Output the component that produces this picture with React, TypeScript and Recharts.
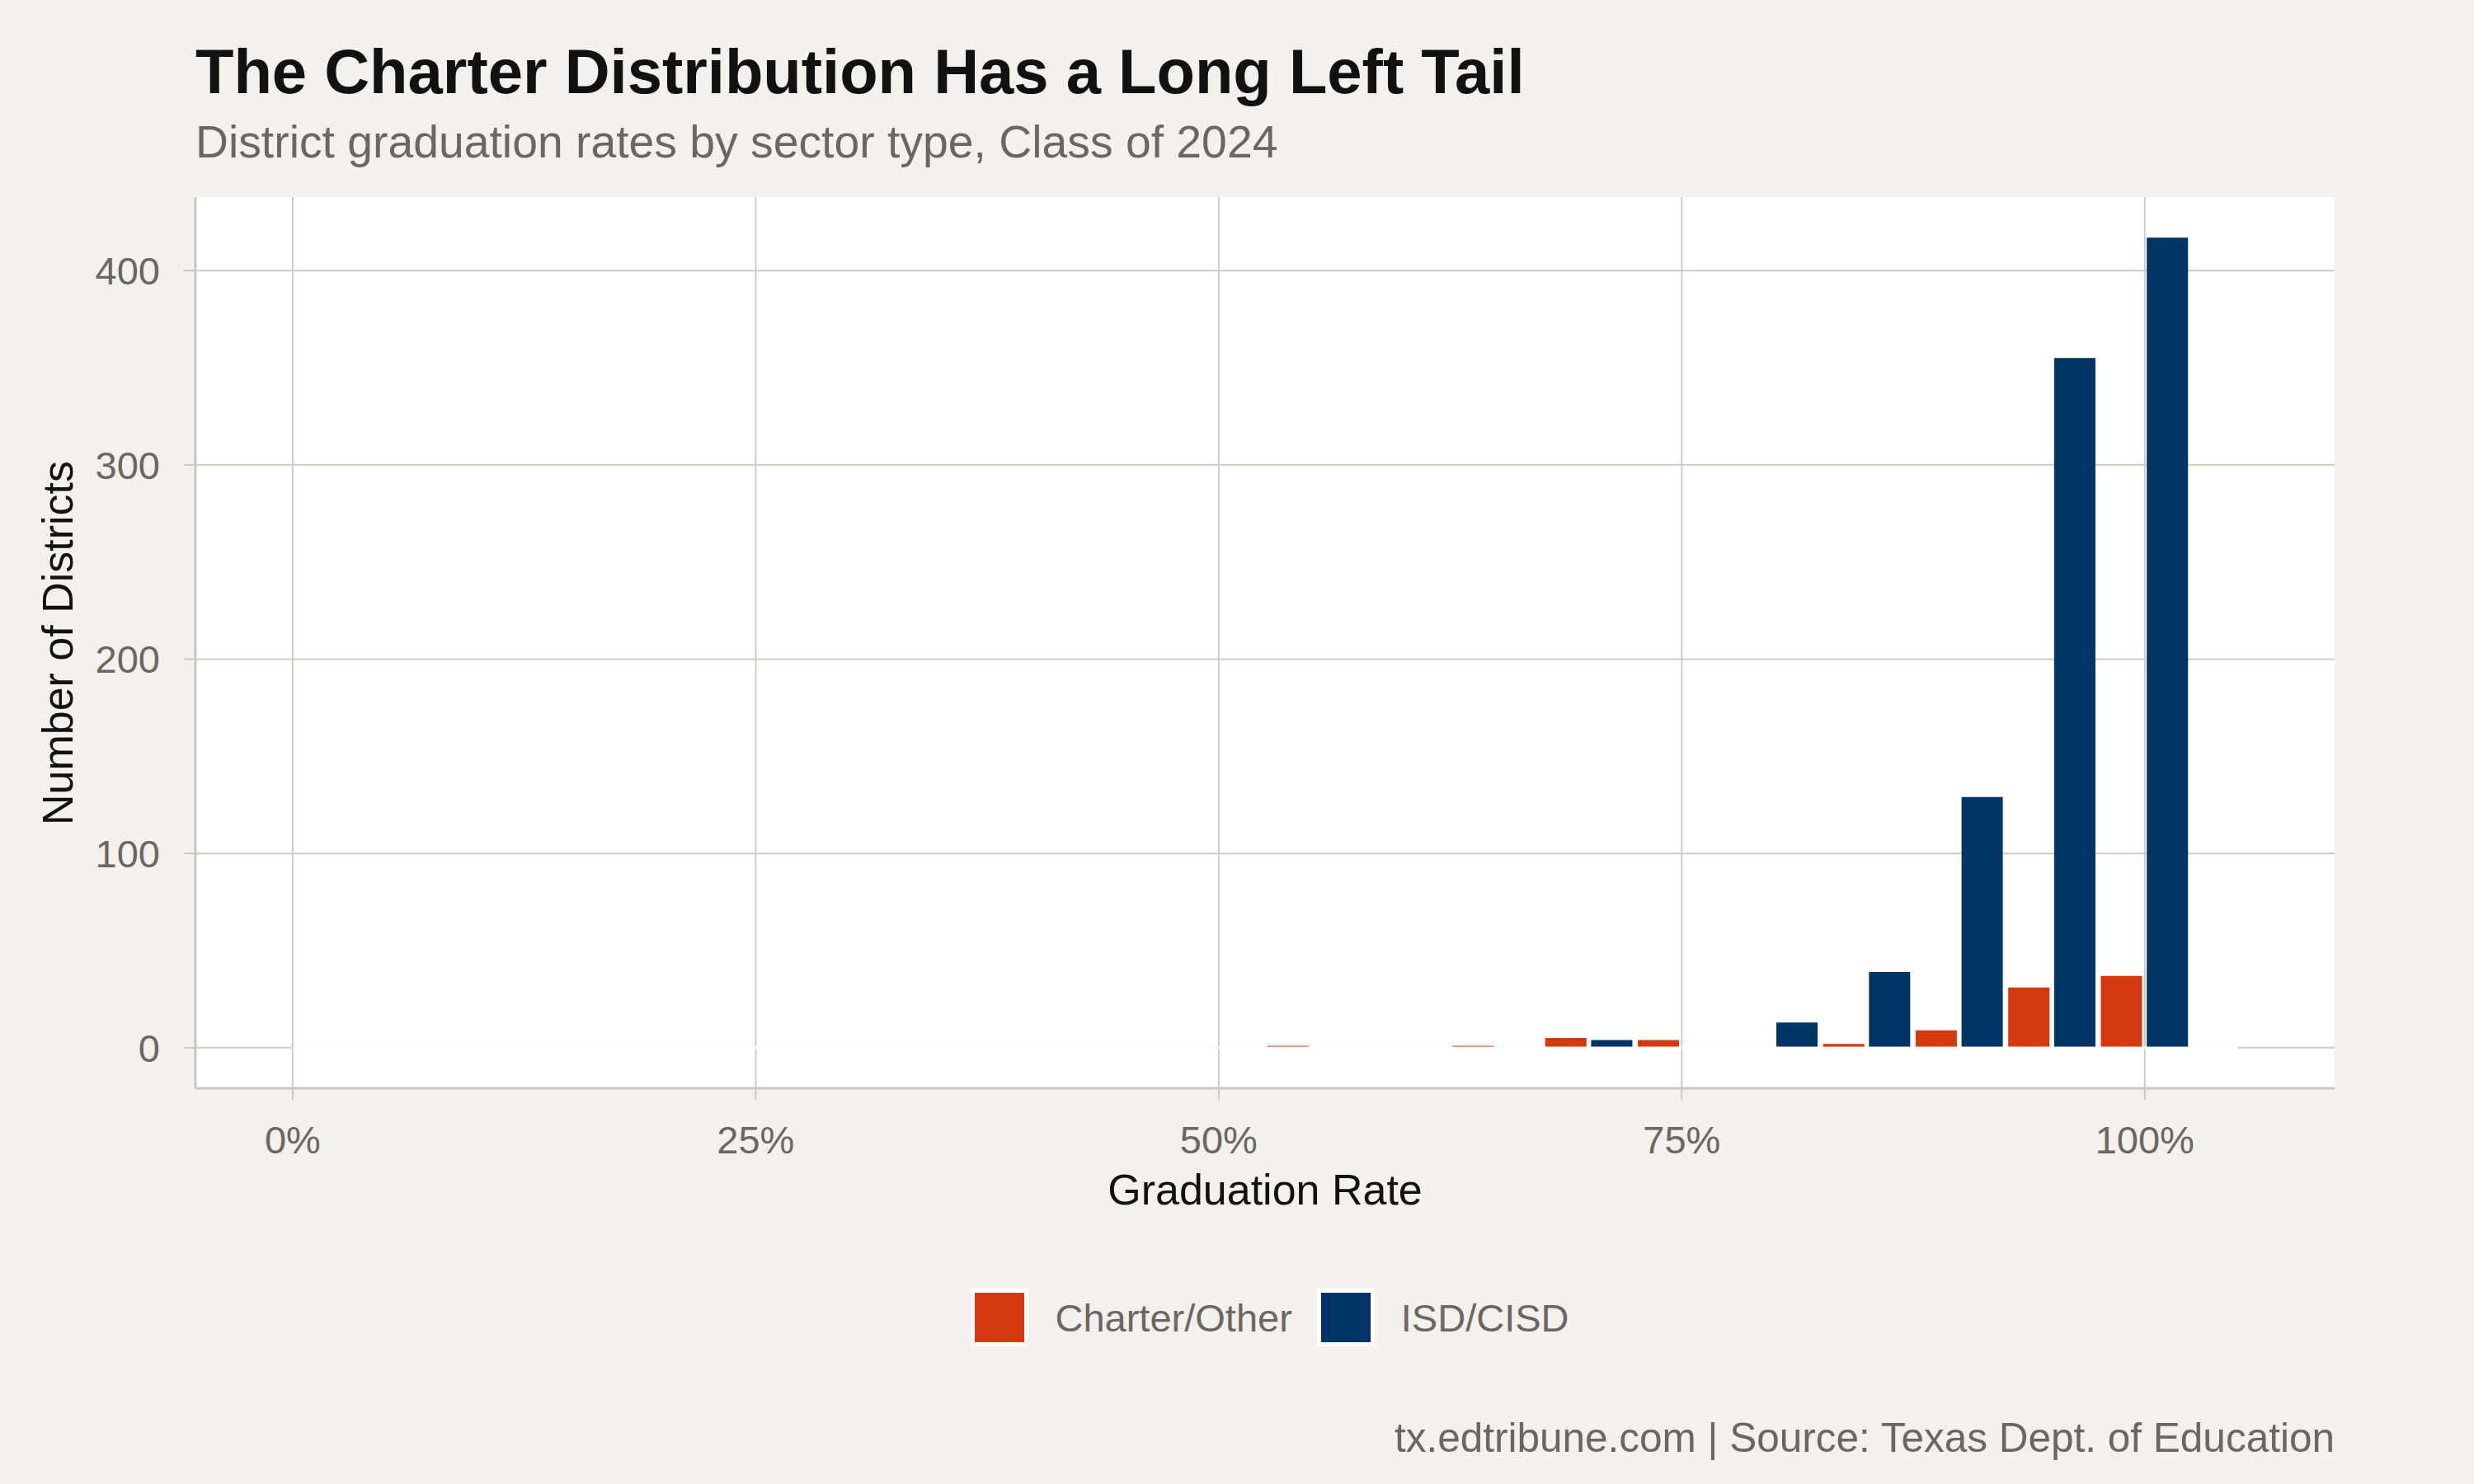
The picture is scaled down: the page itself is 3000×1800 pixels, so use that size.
import React from "react";
import {
  BarChart,
  Bar,
  XAxis,
  YAxis,
  CartesianGrid,
  ReferenceLine,
} from "recharts";

// graduation-rate bins (centre of each 5-point bin, in %)
const bins = [0, 5, 10, 15, 20, 25, 30, 35, 40, 45, 50, 55, 60, 65, 70, 75, 80, 85, 90, 95, 100];
// number of districts per bin
const charterCounts = [0, 0, 0, 0, 0, 0, 0, 0, 0, 0, 0, 1, 0, 1, 5, 4, 0, 2, 9, 31, 37];
const isdCounts = [0, 0, 0, 0, 0, 0, 0, 0, 0, 0, 0, 0, 0, 0, 4, 0, 13, 39, 129, 355, 417];

const series = [
  { key: "charter", name: "Charter/Other", color: "#D4380D" },
  { key: "isd", name: "ISD/CISD", color: "#003366" },
];

const xTicks = [0, 25, 50, 75, 100];
const yTicks = [0, 100, 200, 300, 400];
const binWidth = 5;

const data = bins.map((bin, i) => ({
  bin,
  charter: charterCounts[i],
  isd: isdCounts[i],
}));

const BG = "#F4F1EC";
const GRID = "#D1CBC1";
const AXIS = "#CDC6BC";
const MUTED = "#6B6661";
const FONT = "'Liberation Sans', Arial, Helvetica, sans-serif";

// ggplot-style 5% expansion around the data extent
const xMin = bins[0];
const xMax = bins[bins.length - 1] + binWidth;
const xPad = (xMax - xMin) * 0.05;
const yMax = Math.max(...isdCounts, ...charterCounts);
const yPad = yMax * 0.05;

export default function App() {
  return (
    <div
      style={{
        position: "absolute",
        left: 0,
        top: 0,
        width: 3000,
        height: 1800,
        background: BG,
        fontFamily: FONT,
        overflow: "hidden",
      }}
    >
      <div
        style={{
          position: "absolute",
          left: 237,
          top: 49,
          fontSize: 76,
          lineHeight: "76px",
          fontWeight: 700,
          color: "#111",
          whiteSpace: "nowrap",
        }}
      >
        The Charter Distribution Has a Long Left Tail
      </div>
      <div
        style={{
          position: "absolute",
          left: 237,
          top: 145,
          fontSize: 55.3,
          lineHeight: "55px",
          color: MUTED,
          whiteSpace: "nowrap",
        }}
      >
        District graduation rates by sector type, Class of 2024
      </div>

      <div style={{ position: "absolute", left: 0, top: 0 }}>
        <BarChart
          width={3000}
          height={1800}
          data={data}
          margin={{ top: 239, right: 169, bottom: 380, left: 0 }}
          barCategoryGap={2.85}
          barGap={5.7}
        >
          <CartesianGrid
            stroke={GRID}
            strokeWidth={2}
            fill="#ffffff"
            verticalValues={xTicks}
            horizontalValues={yTicks}
          />
          <XAxis
            dataKey="bin"
            type="number"
            scale="linear"
            domain={[xMin - xPad, xMax + xPad]}
            allowDataOverflow
            ticks={xTicks}
            tickFormatter={(v: number) => `${v}%`}
            tick={{ fontSize: 47, fill: MUTED }}
            tickSize={14}
            tickMargin={32}
            height={100}
            axisLine={{ stroke: AXIS, strokeWidth: 3 }}
            tickLine={{ stroke: AXIS, strokeWidth: 2 }}
          />
          <YAxis
            type="number"
            domain={[-yPad, yMax + yPad]}
            allowDataOverflow
            ticks={yTicks}
            tick={{ fontSize: 47, fill: MUTED }}
            tickSize={14}
            tickMargin={29}
            width={237}
            axisLine={{ stroke: AXIS, strokeWidth: 3 }}
            tickLine={{ stroke: AXIS, strokeWidth: 2 }}
          />
          {/* zero-count bins hide the baseline gridline, as in the original */}
          <ReferenceLine
            segment={[
              { x: xMin, y: 0 },
              { x: xMax, y: 0 },
            ]}
            stroke="#ffffff"
            strokeWidth={2.6}
          />
          {series.map((s) => (
            <Bar
              key={s.key}
              dataKey={s.key}
              name={s.name}
              fill={s.color}
              isAnimationActive={false}
            />
          ))}
        </BarChart>
      </div>

      {/* axis titles */}
      <div
        style={{
          position: "absolute",
          left: 1534 - 400,
          width: 800,
          top: 1417,
          textAlign: "center",
          fontSize: 52,
          lineHeight: "52px",
          color: "#111",
        }}
      >
        Graduation Rate
      </div>
      <div
        style={{
          position: "absolute",
          left: 70 - 400,
          width: 800,
          top: 780 - 26,
          textAlign: "center",
          fontSize: 52,
          lineHeight: "52px",
          color: "#111",
          transform: "rotate(-90deg)",
        }}
      >
        Number of Districts
      </div>

      {/* legend */}
      <div
        style={{
          position: "absolute",
          left: 1540 - 600,
          width: 1200,
          top: 1562,
          height: 72,
          display: "flex",
          justifyContent: "center",
          alignItems: "center",
        }}
      >
        {series.map((s, i) => (
          <div
            key={s.key}
            style={{
              display: "flex",
              alignItems: "center",
              marginLeft: i === 0 ? 0 : 30,
            }}
          >
            <div
              style={{
                width: 70,
                height: 70,
                boxSizing: "border-box",
                border: "5.5px solid #fff",
                background: s.color,
              }}
            />
            <span
              style={{
                marginLeft: 32,
                fontSize: 47,
                lineHeight: "47px",
                color: MUTED,
                whiteSpace: "nowrap",
              }}
            >
              {s.name}
            </span>
          </div>
        ))}
      </div>

      <div
        style={{
          position: "absolute",
          right: 169,
          top: 1719,
          fontSize: 49.5,
          lineHeight: "49px",
          color: MUTED,
          whiteSpace: "nowrap",
        }}
      >
        tx.edtribune.com | Source: Texas Dept. of Education
      </div>
    </div>
  );
}
